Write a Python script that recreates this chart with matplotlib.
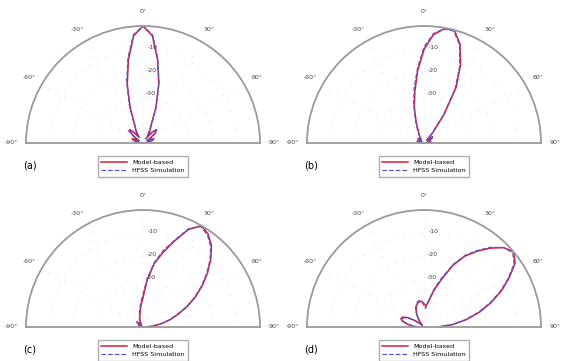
import numpy as np
import matplotlib
matplotlib.use("Agg")
import matplotlib.pyplot as plt

# angles of the pattern samples (deg)
angles = np.arange(-90, 91, 5)

# normalised patterns, dB (axis from -50 to 0)
model_a = [-50, -49, -48, -46, -45, -46, -48, -46, -43, -42, -44, -47, -44, -42, -34, -24, -14, -4, 0,
           -4, -14, -24, -34, -42, -44, -47, -44, -42, -43, -46, -48, -46, -45, -46, -48, -49, -50]
hfss_a = [-50, -49, -48, -46, -46, -47, -48, -45, -42, -42, -45, -47, -45, -41, -33, -23, -13, -3.5, 0,
          -3.5, -13.5, -23.5, -33.5, -41.5, -46, -48, -45, -42, -42, -45, -48, -47, -45, -46, -48, -49, -50]

model_b = [-50, -49, -48, -47, -48, -49, -48, -47, -47, -48, -48, -47, -46, -44, -40, -34, -27.5, -19, -10,
           -3.5, -0.5, 0, -5, -13, -22.5, -35, -44, -48, -47, -45.5, -46, -47.5, -48.5, -47.5, -47, -48, -49.5]
hfss_b = [-50, -49, -47.5, -47, -48, -49, -48.5, -47, -46.5, -47.5, -48.5, -47, -45.5, -43, -39, -33, -26, -18, -9,
          -3, -0.5, -0.5, -5.5, -14, -23.5, -36, -45, -48.5, -46.5, -45, -46.5, -48, -48.5, -47, -47, -48.5, -50]

model_c = [-50, -49, -48.5, -48, -48.5, -49, -48.5, -47.5, -47, -47.5, -48.5, -49, -48, -47, -46, -45, -43, -40.5, -37.5,
           -30, -22.5, -17, -11, -4, 0, -1.5, -4.5, -9, -14, -19, -24, -29, -34, -38, -42, -46, -49]
hfss_c = [-50, -49, -48, -48, -48.5, -49.5, -48.5, -47, -46.5, -47.5, -48.5, -49, -47.5, -46.5, -45.5, -44, -42, -39.5, -36,
          -29, -22, -16, -10.5, -3.5, -0.5, -2, -5, -9.5, -14.5, -19.5, -24.5, -29.5, -34.5, -38.5, -42.5, -46.5, -49.5]

model_d = [-47.5, -45, -42.5, -40.5, -39.5, -40, -42, -45, -47.5, -49, -48, -46, -44, -42, -40.5, -39.5, -39, -39, -40,
           -41, -39, -34, -28.5, -21, -15, -10.5, -6, -2, 0, -2.5, -8, -13.5, -19.5, -25.5, -31.5, -37.5, -44]
hfss_d = [-48, -45.5, -43, -41, -40, -40.5, -42.5, -45.5, -48, -49, -47.5, -45.5, -43.5, -41.5, -40, -39, -38.5, -39, -41,
          -42, -38.5, -33, -27.5, -20.5, -14.5, -10, -5.5, -2, -0.5, -3, -8.5, -14, -20, -26, -32, -38, -44.5]

panels = [("(a)", model_a, hfss_a), ("(b)", model_b, hfss_b),
          ("(c)", model_c, hfss_c), ("(d)", model_d, hfss_d)]

theta_ticks = [-90, -60, -30, 0, 30, 60, 90]
theta_labels = ["-90°", "-60°", "-30°", "0°", "30°", "60°", "90°"]
r_ticks = [-30, -20, -10]
r_labels = ["-30", "-20", "-10"]

W, H = 561, 361
fig = plt.figure(figsize=(W / 100, H / 100), dpi=100)

# (centre x, baseline y) of each half disc, in pixels from the top left
centres = [(143, 143), (424, 143), (143, 327), (424, 327)]
R = 117

for (cx, cy), (tag, model, hfss) in zip(centres, panels):
    # the half disc sits in the middle half of a 2R x 2R box
    ax = fig.add_axes([(cx - R) / W, (H - cy - R / 2) / H, 2 * R / W, 2 * R / H], projection="polar")
    ax.set_theta_zero_location("N")
    ax.set_theta_direction(-1)
    ax.set_thetamin(-90)
    ax.set_thetamax(90)
    ax.set_rlim(-50, 0)
    ax.set_aspect("auto")

    th = np.deg2rad(angles)
    ax.plot(th, model, color="#d81a3c", lw=1.1, label="Model-based")
    ax.plot(th, hfss, color="#5a55c8", lw=0.9, ls="--", label="HFSS Simulation")

    ax.set_thetagrids(theta_ticks, theta_labels)
    ax.set_rgrids(r_ticks, [""] * len(r_ticks))
    ax.tick_params(axis="x", labelsize=4.5, labelcolor="#444444", pad=0)
    ax.grid(color="#c8c8c8", lw=0.5, ls=(0, (1, 12)))
    for sp in ax.spines.values():
        sp.set_color("#9a9a9a")
        sp.set_linewidth(1.3)
    for rv, rl in zip(r_ticks, r_labels):
        ax.text(np.deg2rad(3), rv + 1, rl, fontsize=4.5, color="#444444", ha="left", va="center")

    leg = ax.legend(loc="upper center", bbox_to_anchor=(0.5, 0.21), fontsize=4.6,
                    frameon=True, fancybox=False, edgecolor="#9a9a9a", handlelength=4,
                    borderpad=0.6, labelspacing=0.45)
    leg.get_frame().set_linewidth(1.0)
    fig.text((cx - 113) / W, (H - cy - 22) / H, tag, fontsize=7, ha="center", va="center")

fig.savefig("out.png", dpi=100)
